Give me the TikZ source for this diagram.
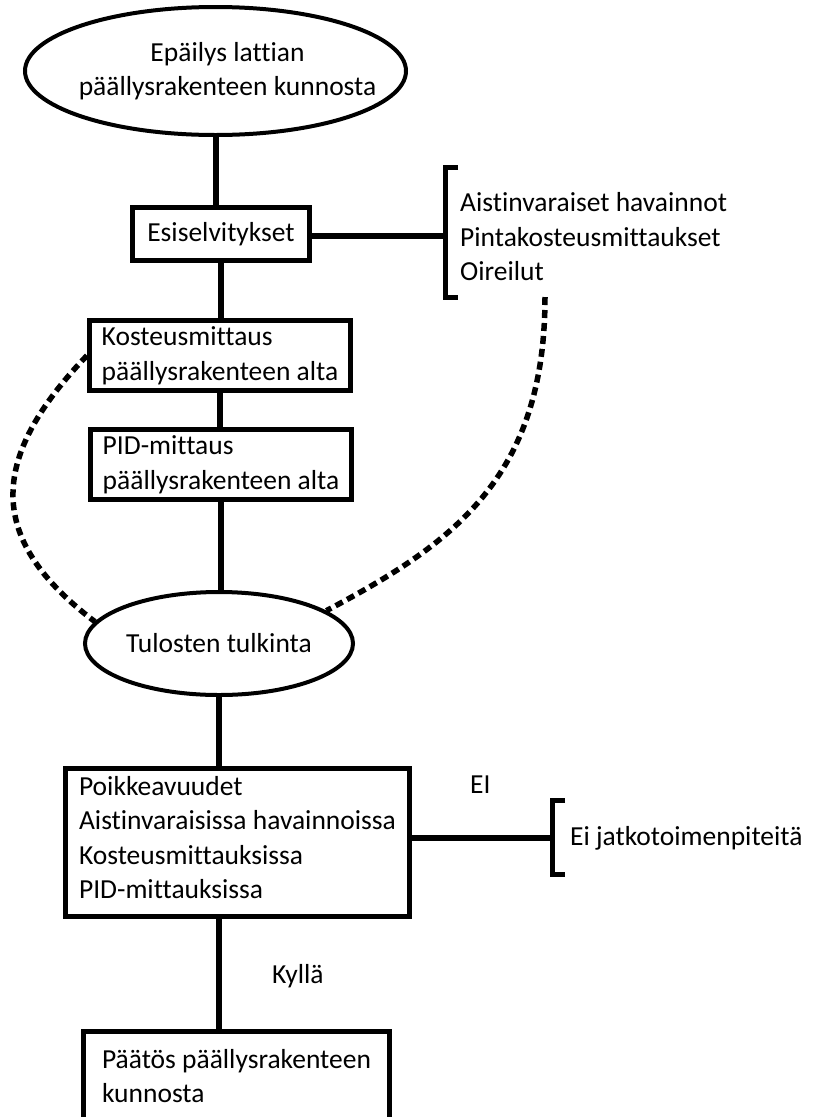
\documentclass[tikz,border=0pt]{standalone}
\usepackage{fontspec}
\setmainfont{Carlito}[Ligatures=CommonOff]
\usetikzlibrary{shapes.geometric,calc}
\begin{document}
\begin{tikzpicture}[x=1pt,y=-1pt,
  every node/.style={font=\fontsize{27.5}{34.5}\selectfont, inner sep=0pt},
  box/.style={draw, rectangle, line width=5pt, align=left},
  oval/.style={draw, ellipse, line width=4pt, align=center},
  conn/.style={line width=6pt},
  brk/.style={line width=5.5pt},
  dashline/.style={line width=5.5pt, dash pattern=on 8pt off 5pt}]
\clip (0,0) rectangle (812,1117);
\fill[white] (0,0) rectangle (812,1117);
% nodes
\node[oval, minimum width=381pt, minimum height=128pt,
  label={[align=center, xshift=12pt]center:Epäilys lattian\\päällysrakenteen kunnosta}] (epa) at (215.5,71) {};
\node[box, minimum width=177pt, minimum height=53pt] (esi) at (221,234) {Esiselvitykset};
\node[box, minimum width=261pt, minimum height=70pt] (kost) at (220,355.5) {Kosteusmittaus\\päällysrakenteen alta};
\node[box, minimum width=261pt, minimum height=70pt] (pid) at (221,464.5) {PID-mittaus\\päällysrakenteen alta};
\node[oval, minimum width=268pt, minimum height=103pt] (tul) at (219,643.5) {Tulosten tulkinta};
\node[box, minimum width=344pt, minimum height=148pt] (poik) at (237.5,842.5) {Poikkeavuudet\\Aistinvaraisissa havainnoissa\\Kosteusmittauksissa\\PID-mittauksissa\rule[-10pt]{0pt}{10pt}};
\node[box, minimum width=306pt, minimum height=90pt] (paat) at (236.5,1076) {Päätös päällysrakenteen\\kunnosta};
% bracket 1
\coordinate (br1) at (445.5,235.5);
\draw[brk] ($(br1)+(12.5,-68)$) -- ($(br1)+(0,-68)$) -- ($(br1)+(0,62)$) -- ($(br1)+(12.5,62)$);
\node[anchor=west, align=left] (obs) at (460,237) {Aistinvaraiset havainnot\\Pintakosteusmittaukset\\Oireilut};
% bracket 2
\coordinate (br2) at (552.5,838);
\draw[brk] ($(br2)+(12.5,-37.5)$) -- ($(br2)+(0,-37.5)$) -- ($(br2)+(0,36.5)$) -- ($(br2)+(12.5,36.5)$);
\node[anchor=west] (eij) at (570,838.5) {Ei jatkotoimenpiteitä};
\node[anchor=base west] (ei) at (470,793) {EI};
\node[anchor=base west] (kylla) at (272,983) {Kyllä};
% connectors
\draw[conn] (epa.south) -- (epa.south |- esi.north);
\draw[conn] (esi.south) -- (esi.south |- kost.north);
\draw[conn] (kost.south) -- (kost.south |- pid.north);
\draw[conn] (pid.south) -- (pid.south |- tul.north);
\draw[conn] (tul.south) -- (tul.south |- poik.north);
\draw[conn] (poik.south -| tul.south) -- (tul.south |- paat.north);
\draw[conn] (esi.east |- br1) -- (br1);
\draw[conn] (poik.east |- br2) -- (br2);
% dashed feedback curves
\coordinate (dend) at (545,297);
\draw[dashline] (dend) .. controls (545,480) and (450,545) .. (tul.17);
\draw[dashline] (kost.west) .. controls (-13,460) and (-13,540) .. (tul.170);
\end{tikzpicture}
\end{document}
